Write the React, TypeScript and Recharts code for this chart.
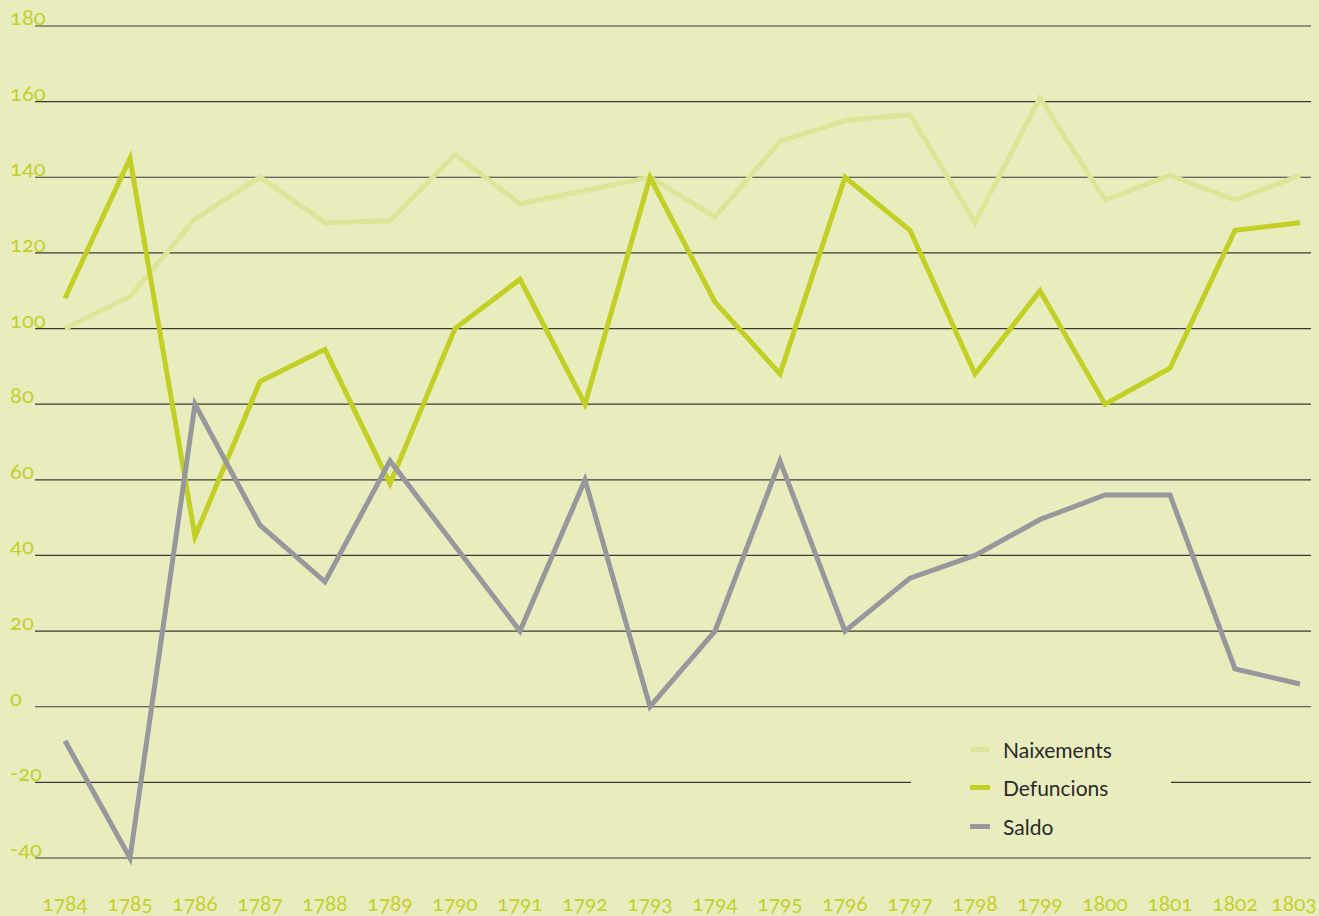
import React from 'react';
import { LineChart, Line, XAxis, YAxis, CartesianGrid } from 'recharts';

const YEARS = [1784, 1785, 1786, 1787, 1788, 1789, 1790, 1791, 1792, 1793, 1794, 1795, 1796, 1797, 1798, 1799, 1800, 1801, 1802, 1803];
const NAIXEMENTS = [100, 108.5, 129, 140, 128, 128.5, 146, 133, 136.5, 140, 129.5, 149.5, 155, 156.5, 128, 161, 134, 140.5, 134, 140.5];
const DEFUNCIONS = [108, 145, 45, 86, 94.5, 59, 100, 113, 80, 140, 107, 88, 140, 126, 88, 110, 80, 89.5, 126, 128];
const SALDO = [-9, -40, 80, 48, 33, 65, 42.5, 20, 60, 0, 20, 65, 20, 34, 40, 49.5, 56, 56, 10, 6];
const Y_TICKS = [-40, -20, 0, 20, 40, 60, 80, 100, 120, 140, 160, 180];

const data = YEARS.map((year, i) => ({
  year,
  naixements: NAIXEMENTS[i],
  defuncions: DEFUNCIONS[i],
  saldo: SALDO[i],
}));

const BG = '#E9EDBE';
const LABEL_GREEN = '#C3D02C';
const COLORS = {
  naixements: '#DDE599',
  defuncions: '#C2D026',
  saldo: '#97979C',
};
const FONT = 'Lato, "Open Sans", sans-serif';

const LEGEND_ITEMS = [
  { label: 'Naixements', color: COLORS.naixements },
  { label: 'Defuncions', color: COLORS.defuncions },
  { label: 'Saldo', color: COLORS.saldo },
];

const YTick = ({ y, payload }: any) => (
  <text
    x={10}
    y={y}
    dy={-1}
    fill={LABEL_GREEN}
    fontSize={22}
    fontFamily={FONT}
    textAnchor="start"
    style={{ fontVariantNumeric: 'oldstyle-nums' }}
  >
    {payload.value}
  </text>
);

const XTick = ({ x, payload }: any) => (
  <text
    x={Math.min(x, 1294)}
    y={911}
    fill={LABEL_GREEN}
    fontSize={21}
    fontFamily={FONT}
    textAnchor="middle"
    style={{ fontVariantNumeric: 'oldstyle-nums' }}
  >
    {payload.value}
  </text>
);

const LegendBox = () => (
  <div
    style={{
      position: 'absolute',
      left: 911,
      top: 722,
      width: 260,
      height: 116,
      background: BG,
      paddingTop: 8,
      boxSizing: 'border-box',
    }}
  >
    {LEGEND_ITEMS.map((it) => (
      <div key={it.label} style={{ display: 'flex', alignItems: 'center', height: 38.5 }}>
        <span style={{ display: 'inline-block', width: 20, height: 5, background: it.color, marginLeft: 59, marginRight: 13 }} />
        <span style={{ fontFamily: FONT, fontSize: 21, color: '#2a2a2a' }}>{it.label}</span>
      </div>
    ))}
  </div>
);

export default function App() {
  return (
    <div style={{ position: 'absolute', left: 0, top: 0, width: 1319, height: 916, background: BG, overflow: 'hidden' }}>
      <LineChart width={1319} height={916} data={data} margin={{ top: 26, right: 8, bottom: 0, left: 0 }}>
        <CartesianGrid horizontal vertical={false} stroke="#3a3a36" strokeWidth={1.2} />
        <XAxis
          dataKey="year"
          axisLine={false}
          tickLine={false}
          height={58}
          padding={{ left: 30, right: 11 }}
          tick={<XTick />}
          interval={0}
        />
        <YAxis
          domain={[-40, 180]}
          ticks={Y_TICKS}
          axisLine={false}
          tickLine={false}
          width={35}
          tick={<YTick />}
        />
        <Line
          type="linear"
          dataKey="naixements"
          stroke={COLORS.naixements}
          strokeWidth={5}
          strokeLinejoin="miter"
          dot={false}
          activeDot={false}
          isAnimationActive={false}
        />
        <Line
          type="linear"
          dataKey="defuncions"
          stroke={COLORS.defuncions}
          strokeWidth={5}
          strokeLinejoin="miter"
          dot={false}
          activeDot={false}
          isAnimationActive={false}
        />
        <Line
          type="linear"
          dataKey="saldo"
          stroke={COLORS.saldo}
          strokeWidth={5}
          strokeLinejoin="miter"
          dot={false}
          activeDot={false}
          isAnimationActive={false}
        />
      </LineChart>
      <LegendBox />
    </div>
  );
}
